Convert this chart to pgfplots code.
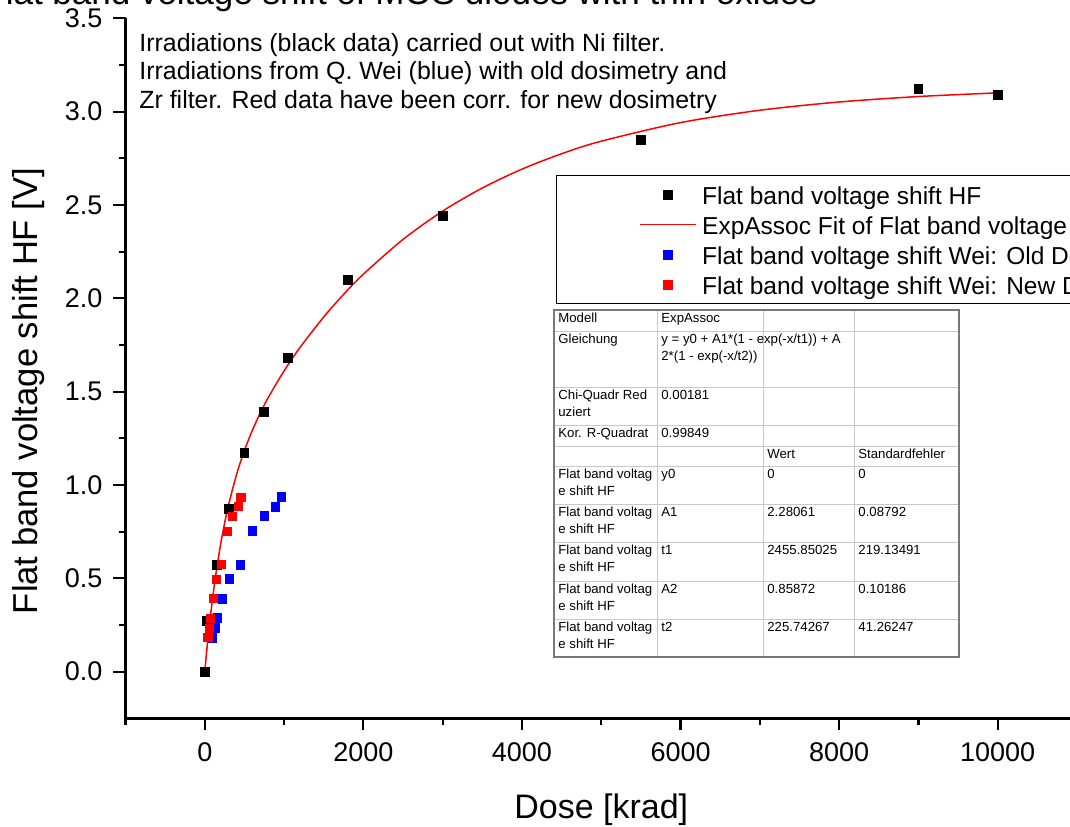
\documentclass[border=0pt]{standalone}
\usepackage{pgfplots}
\pgfplotsset{compat=1.18}
\usepackage{fontspec}
\setmainfont{Liberation Sans}

\definecolor{tabline}{RGB}{200,200,200}
\definecolor{tabborder}{RGB}{120,120,120}

\begin{document}
\begin{tikzpicture}
\useasboundingbox (0,0) rectangle (535pt,413pt);
\clip (0,0) rectangle (535pt,413pt);
\begin{axis}[
    scale only axis,
    width=475.75pt, height=350pt,
    at={(62.75pt,53.85pt)}, anchor=south west,
    xmin=-1000, xmax=11000,
    ymin=-0.25, ymax=3.5,
    axis x line*=bottom, axis y line*=left,
    axis line style={line width=1.3pt},
    xtick={0,2000,4000,6000,8000,10000},
    minor xtick={-1000,1000,3000,5000,7000,9000,11000},
    ytick={0,0.5,1,1.5,2,2.5,3,3.5},
    minor ytick={0.25,0.75,1.25,1.75,2.25,2.75,3.25},
    tick align=outside,
    major tick length=6pt, minor tick length=3.5pt,
    every tick/.style={black, line width=1.1pt},
    tick label style={font=\fontsize{13.5}{16}\selectfont},
    /pgf/number format/assume math mode=true,
    /pgf/number format/set thousands separator={},
    scaled x ticks=false,
    xticklabel style={yshift=-2.5pt},
    yticklabel style={xshift=-2pt, /pgf/number format/.cd, fixed, fixed zerofill, precision=1},
    xlabel={Dose [krad]},
    ylabel={Flat band voltage shift HF [V]},
    xlabel style={font=\fontsize{17}{20}\selectfont, at={(axis description cs:0.5,-0.143)}, anchor=base},
    ylabel style={font=\fontsize{17.3}{20}\selectfont, at={(axis description cs:-0.102,0.4676)}, anchor=center},
    legend style={at={(0.4524,0.7761)}, anchor=north west, draw=black, line width=0.7pt,
        fill=white, font=\fontsize{12.25}{14.5}\selectfont,
        inner xsep=41.5pt, inner ysep=2pt, row sep=0pt,
        nodes={inner xsep=3pt, inner ysep=1.5pt, text height=11pt, text depth=1pt}},
    legend cell align=left,
    legend image code/.code={\draw[mark repeat=2,mark phase=2,#1]
        plot coordinates {(0pt,0pt)(13.75pt,0pt)(27.5pt,0pt)};},
]

\addplot[only marks, mark=square*, mark size=2.2pt, color=black]
    coordinates {
    (0,0)(25,0.27)(150,0.57)(300,0.87)(500,1.17)(750,1.39)(1050,1.68)
    (1800,2.10)(3000,2.44)(5500,2.85)(9000,3.12)(10000,3.09)
    };
\addlegendentry{Flat band voltage shift HF}

\addplot[color=red, line width=0.75pt, mark=none, smooth]
    coordinates {
    (0,0)(25,0.1131)(50,0.2166)(100,0.3983)(150,0.5520)(200,0.6830)(250,0.7958)
    (300,0.8936)(400,1.0555)(500,1.1851)(600,1.2929)(700,1.3857)(800,1.4680)
    (1000,1.6113)(1200,1.7360)(1500,1.9000)(1750,2.0206)(2000,2.1291)(2500,2.3153)
    (3000,2.4671)(3500,2.5909)(4000,2.6919)(4500,2.7744)(5000,2.8416)(6000,2.9412)
    (7000,3.0074)(8000,3.0516)(9000,3.0809)(10000,3.1005)
    };
\addlegendentry{ExpAssoc Fit of Flat band voltage shift HF}

\addplot[only marks, mark=square*, mark size=2.1pt, color=blue]
    coordinates {
    (97,0.180)(132,0.234)(158,0.288)(221,0.389)(309,0.496)(448,0.571)
    (599,0.754)(750,0.834)(889,0.882)(965,0.936)
    };
\addlegendentry{Flat band voltage shift Wei: Old Dosimetry}

\addplot[only marks, mark=square*, mark size=2.1pt, color=red]
    coordinates {
    (40,0.182)(61,0.232)(73,0.286)(111,0.391)(145,0.495)(212,0.573)
    (284,0.752)(351,0.832)(422,0.884)(456,0.934)
    };
\addlegendentry{Flat band voltage shift Wei: New Dosimetry}

\end{axis}

% everything below in pixel units of the reference (origin top left)
\begin{scope}[x=0.5pt, y=-0.5pt, shift={(0pt,413pt)}]
  \node[anchor=base west, inner sep=0pt, font=\fontsize{17.5}{20}\selectfont]
      at (-16,5) {Flat band voltage shift of MOS diodes with thin oxides};
  \node[anchor=north west, inner sep=0pt, align=left, font=\fontsize{12.45}{14.25}\selectfont]
      at (139,33) {Irradiations (black data) carried out with Ni filter.\\
      Irradiations from Q. Wei (blue) with old dosimetry and\\
      Zr filter. Red data have been corr. for new dosimetry};

  % fit result table
  \fill[white] (554,310) rectangle (959,657);
  \foreach \y in {331,387,425,446,466,504,542,581,619}
      \draw[tabline, line width=0.5pt] (554,\y) -- (959,\y);
  \foreach \x in {657,763,854}
      \draw[tabline, line width=0.5pt] (\x,310) -- (\x,657);
  \draw[tabborder, line width=0.8pt] (554,310) rectangle (959,657);
  \begin{scope}[every node/.style={anchor=north west, inner sep=0pt, align=left,
        font=\fontsize{6.6}{8.3}\selectfont}]
    \node at (558,313) {Modell};
    \node at (661,313) {ExpAssoc};
    \node at (558,334) {Gleichung};
    \node at (661,334) {y = y0 + A1*(1 - exp(-x/t1)) + A\\2*(1 - exp(-x/t2))};
    \node at (558,390) {Chi-Quadr Red\\uziert};
    \node at (661,390) {0.00181};
    \node at (558,428) {Kor. R-Quadrat};
    \node at (661,428) {0.99849};
    \node at (767,449) {Wert};
    \node at (858,449) {Standardfehler};
    \foreach \rr/\pp/\vv/\ee in {469/y0/0/0, 507/A1/2.28061/0.08792,
        545/t1/2455.85025/219.13491, 584/A2/0.85872/0.10186,
        622/t2/225.74267/41.26247} {
      \node at (558,\rr) {Flat band voltag\\e shift HF};
      \node at (661,\rr) {\pp};
      \node at (767,\rr) {\vv};
      \node at (858,\rr) {\ee};
    }
  \end{scope}
\end{scope}
\end{tikzpicture}
\end{document}
